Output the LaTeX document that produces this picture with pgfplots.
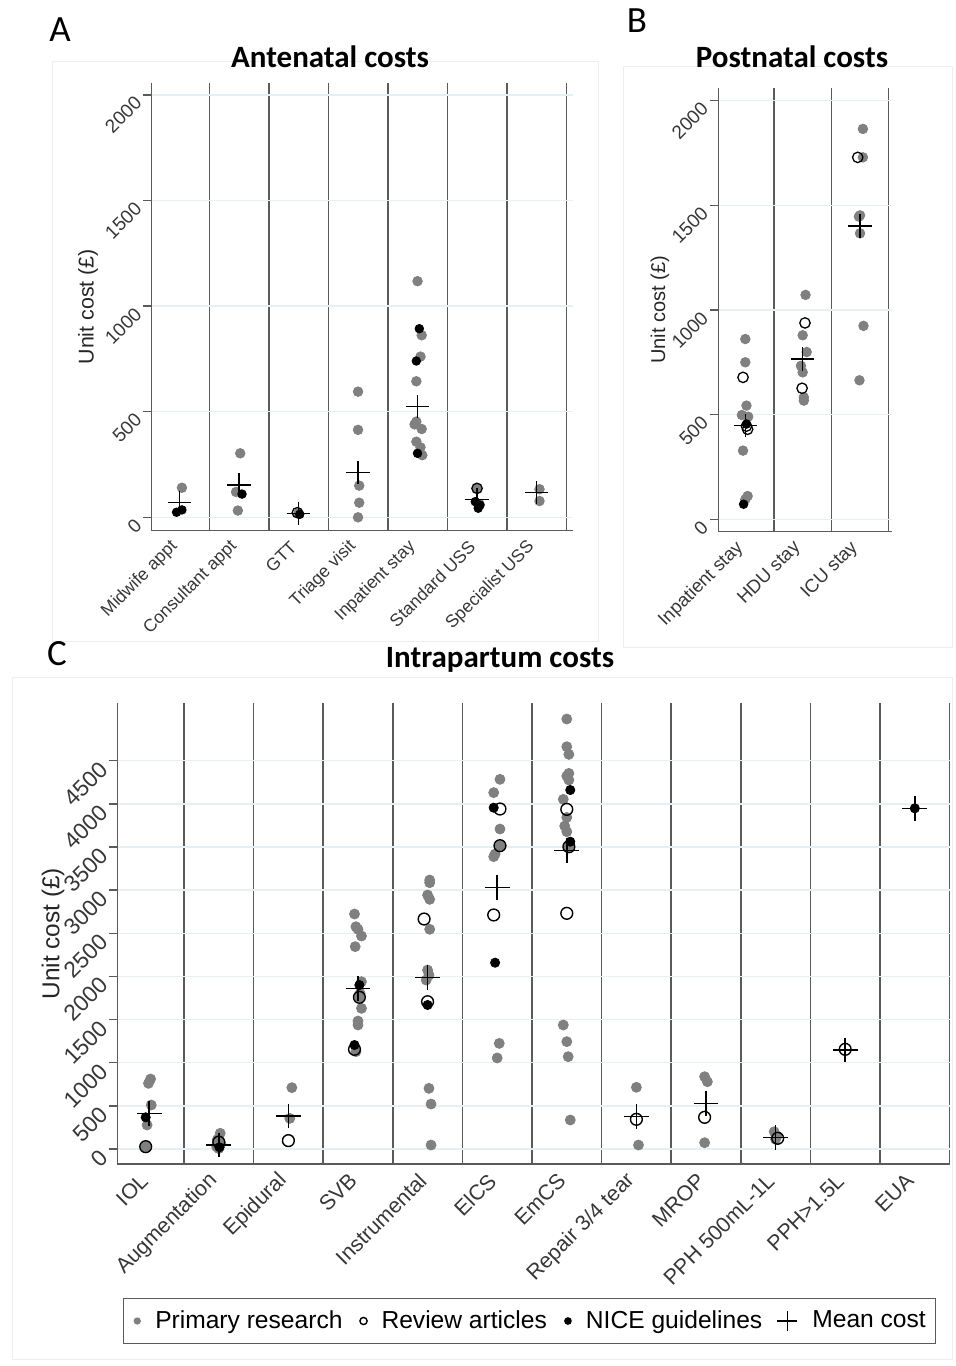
\documentclass[border=0pt]{standalone}
\usepackage{fontspec}
\setmainfont{Liberation Sans}
\newfontfamily\calfont{Carlito}
\usepackage{pgfplots}
\pgfplotsset{compat=1.18}
\definecolor{sepcol}{RGB}{90,90,90}
\definecolor{gridcol}{RGB}{230,239,241}
\definecolor{dotgrey}{RGB}{128,128,128}
\definecolor{labcol}{RGB}{55,55,55}
\definecolor{framecol}{RGB}{238,238,238}
\pgfplotsset{
 panel/.style={
  scale only axis, clip=false,
  axis lines=left,
  axis line style={-, draw=sepcol, line width=0.75pt},
  xtick style={draw=none},
  ytick style={draw=sepcol, line width=0.75pt},
  tick align=outside, major tick length=4.25pt,
  ymajorgrids, major grid style={draw=gridcol, line width=0.75pt},
  xminorgrids, minor grid style={draw=sepcol, line width=0.75pt},
  minor tick length=0pt,
  /pgf/number format/assume math mode=true,
  /pgf/number format/set thousands separator={},
  yticklabel style={rotate=45, anchor=east, text=labcol},
  xticklabel style={rotate=45, anchor=east, text=labcol},
  ylabel style={text=black!85, anchor=center},
 },
 prim/.style={only marks, mark=*, color=dotgrey, mark size=2.4pt},
 rev/.style={only marks, mark=o, color=black, mark size=2.6pt, mark options={line width=0.65pt}},
 nice/.style={only marks, mark=*, color=black, mark size=2.15pt},
 mean/.style={only marks, mark=+, color=black, mark size=5.8pt, mark options={line width=0.75pt}},
 legimg/.style={legend image code/.code={\path[draw=none,fill=none] (0pt,0pt) -- (11pt,0pt); \draw[##1] plot coordinates {(4pt,0pt)};}},
 legimgplus/.style={legend image code/.code={\path[draw=none,fill=none] (0pt,0pt) -- (16.5pt,0pt); \draw[##1] plot coordinates {(6pt,0pt)};}},
}
\begin{document}
\begin{tikzpicture}
\path[use as bounding box] (0,0) rectangle (478pt,683pt);
% faint panel frames
\draw[framecol, line width=0.5pt] (26pt,652pt) rectangle (299pt,362pt);
\draw[framecol, line width=0.5pt] (311.5pt,649.5pt) rectangle (476pt,359pt);
\draw[framecol, line width=0.5pt] (6pt,344pt) rectangle (476pt,3pt);
% panel letters and titles
\node[font=\calfont\fontsize{18.5}{20}\selectfont] at (30pt,668pt) {A};
\node[font=\calfont\fontsize{18.5}{20}\selectfont] at (318.5pt,672.5pt) {B};
\node[font=\calfont\fontsize{18.5}{20}\selectfont] at (28.5pt,356pt) {C};
\node[font=\calfont\bfseries\fontsize{15.5}{17}\selectfont] at (165pt,654.5pt) {Antenatal costs};
\node[font=\calfont\bfseries\fontsize{15.5}{17}\selectfont] at (396pt,654.5pt) {Postnatal costs};
\node[font=\calfont\bfseries\fontsize{15.5}{17}\selectfont] at (250pt,353pt) {Intrapartum costs};

% ---------------- Panel A
\begin{axis}[panel,
  at={(75.85pt,417.65pt)}, anchor=south west,
  width=210.5pt, height=224pt,
  xmin=0.532, xmax=7.608, ymin=-63.4, ymax=2057.8,
  xtick={1,...,7},
  xticklabels={Midwife appt, Consultant appt, GTT, Triage visit, Inpatient stay, Standard USS, Specialist USS},
  minor xtick={1.5,2.5,...,7.5},
  ytick={0,500,1000,1500,2000},
  xticklabel style={font=\fontsize{8.8}{10}\selectfont},
  yticklabel style={font=\fontsize{9.5}{10}\selectfont},
  ylabel={Unit cost (£)},
  ylabel style={at={(axis description cs:-0.151,0.5)}, font=\fontsize{10.7}{12}\selectfont},
]
\addplot[prim] coordinates {(1.04,140) (1.95,120) (1.98,32) (2.02,303) (3.0,20)
 (4.0,595) (4.0,414) (4.02,150) (4.02,69) (4.0,0)
 (5.0,1118) (5.07,862) (5.05,761) (4.98,644) (4.98,453) (4.95,440) (5.07,418) (4.98,358) (5.05,331) (5.08,294)
 (6.0,137) (6.04,62) (7.05,133) (7.05,77)};
\addplot[rev] coordinates {(2.98,22) (6.0,137)};
\addplot[nice] coordinates {(0.95,24) (1.04,35) (2.05,110) (3.02,14) (5.03,893) (4.98,740) (5.0,303) (5.97,74) (6.02,43) (6.05,58)};
\addplot[mean] coordinates {(1,70) (2,153) (3,19) (4,211) (5,524) (6,85) (7,117)};
\end{axis}

% ---------------- Panel B
\begin{axis}[panel,
  at={(359.15pt,417.15pt)}, anchor=south west,
  width=86.7pt, height=221.7pt,
  xmin=0.529, xmax=3.552, ymin=-59.3, ymax=2059,
  xtick={1,2,3},
  xticklabels={Inpatient stay, HDU stay, ICU stay},
  minor xtick={1.5,2.5,3.5},
  ytick={0,500,1000,1500,2000},
  xticklabel style={font=\fontsize{9.3}{10}\selectfont},
  yticklabel style={font=\fontsize{9.5}{10}\selectfont},
  ylabel={Unit cost (£)},
  ylabel style={at={(axis description cs:-0.336,0.5)}, font=\fontsize{10}{12}\selectfont},
]
\addplot[prim] coordinates {(1.0,861) (1.0,750) (1.02,543) (0.94,498) (1.05,490) (0.96,328) (1.04,111) (1.0,95)
 (2.05,1072) (2.0,879) (2.07,799) (1.97,733) (2.0,702) (2.02,583) (2.02,567)
 (3.05,1865) (3.05,1729) (3.0,1452) (2.98,1446) (3.0,1366) (3.06,924) (2.99,664)};
\addplot[rev] coordinates {(0.96,678) (1.04,430) (1.02,445) (2.04,938) (1.99,626) (2.96,1729)};
\addplot[nice] coordinates {(0.97,72) (1.02,455)};
\addplot[mean] coordinates {(1,447) (2,766) (3,1401)};
\end{axis}

% ---------------- Panel C
\begin{axis}[panel,
  at={(58.65pt,101pt)}, anchor=south west,
  width=416.15pt, height=230.35pt,
  xmin=0.542, xmax=12.5, ymin=-173.8, ymax=5165,
  xtick={1,...,12},
  xticklabels={IOL, Augmentation, Epidural, SVB, Instrumental, ElCS, EmCS, Repair 3/4 tear, MROP, PPH 500mL-1L, PPH>1.5L, EUA},
  minor xtick={1.5,2.5,...,12.5},
  ytick={0,500,...,4500},
  xticklabel style={font=\fontsize{10.7}{12}\selectfont},
  yticklabel style={font=\fontsize{11.4}{12}\selectfont},
  ylabel={Unit cost (£)},
  ylabel style={at={(axis description cs:-0.0773,0.5)}, font=\fontsize{12.2}{14}\selectfont},
  legend columns=4,
  legend style={at={(axis description cs:0.4953,-0.3408)}, anchor=center,
    draw=sepcol, line width=0.6pt, font=\fontsize{12.3}{14}\selectfont,
    inner xsep=3pt, inner ysep=4pt,
    /tikz/every even column/.append style={column sep=4.5pt}},
]
\addplot[prim, mark size=2.5pt, legimg, legend image post style={mark size=1.5pt}] coordinates {
 (1.02,811) (0.99,761) (1.03,510) (0.97,278) (0.95,27)
 (2.02,182) (1.98,110) (2.03,60) (1.97,25) (2.0,5)
 (3.05,711) (3.02,355)
 (3.95,2723) (3.97,2576) (4.0,2546) (4.05,2468) (3.96,2345) (4.05,1939) (4.03,1804) (4.02,1758) (4.05,1630) (4.0,1483) (4.0,1437) (3.97,1128)
 (5.03,3117) (5.03,3086) (5.0,2943) (5.03,2893) (5.03,2546) (5.0,2074) (5.02,2016) (4.98,1958) (5.02,703) (5.05,521) (5.05,46)
 (6.04,4284) (5.95,4130) (6.04,3708) (6.04,3515) (5.97,3418) (5.95,3388) (6.03,1224) (6.0,1055)
 (7.0,4983) (7.0,4662) (7.03,4573) (7.03,4353) (7.0,4322) (7.03,4276) (6.95,4052) (7.0,3843) (6.97,3743) (7.0,3677) (7.03,3503) (6.95,1437) (7.0,1244) (7.02,1070) (7.05,336)
 (8.0,715) (8.03,46)
 (8.98,838) (9.02,780) (8.98,73)
 (9.98,200) (10.02,150) (10.0,112)};
\addlegendentry{Primary research}
\addplot[rev, mark size=2.95pt, mark options={line width=0.7pt}, legimg, legend image post style={mark size=1.8pt}] coordinates {
 (0.95,27) (2.0,80) (3.0,97) (4.02,1758) (3.95,1155) (4.95,2665) (5.0,1707)
 (6.04,3940) (6.04,3515) (5.95,2712) (7.0,3936) (7.03,3503) (7.0,2731)
 (8.0,344) (8.98,367) (10.03,124) (11.0,1155)};
\addlegendentry{Review articles}
\addplot[nice, mark size=2.3pt, legimg, legend image post style={mark size=1.6pt}] coordinates {
 (0.95,367) (2.01,20) (4.02,1900) (3.95,1205) (5.0,1669) (5.95,3955) (5.97,2159) (7.05,4160) (7.05,3561) (12.0,3948)};
\addlegendentry{NICE guidelines}
\addplot[mean, mark size=6.2pt, legimgplus, legend image post style={mark size=5pt}] coordinates {
 (1,409) (2,46) (3,382) (4,1862) (5,1989) (6,3028) (7,3457) (8,375) (9,529) (10,135) (11,1147) (12,3948)};
\addlegendentry{Mean cost}
\end{axis}
\end{tikzpicture}
\end{document}
